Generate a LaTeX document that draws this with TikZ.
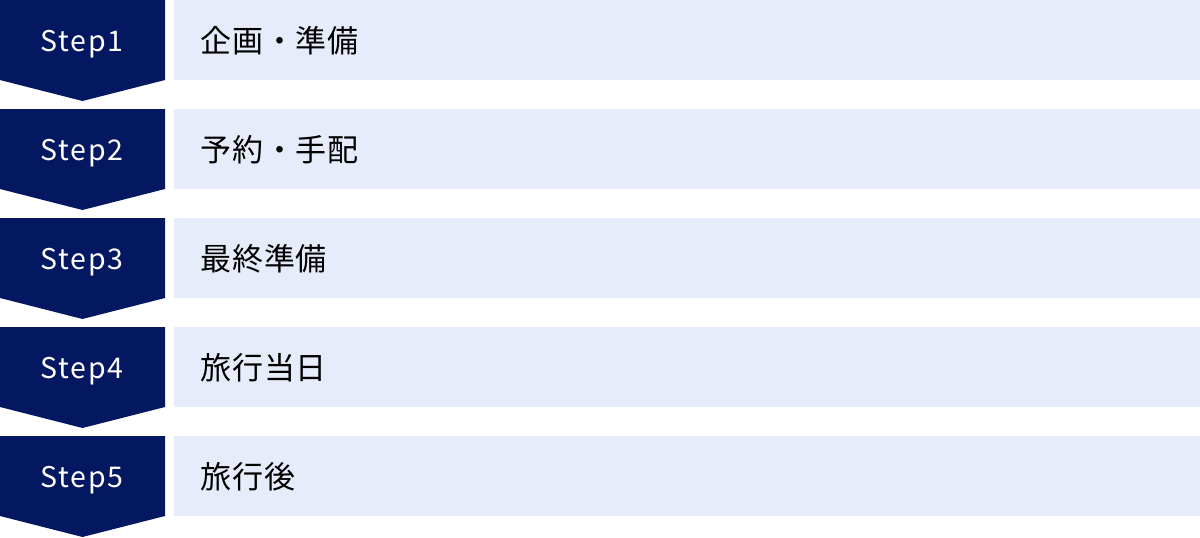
\documentclass[tikz,border=0pt]{standalone}
\usepackage{fontspec}
\setmainfont{Noto Sans CJK JP}
\usetikzlibrary{positioning}
\definecolor{stepnavy}{HTML}{041862}
\definecolor{boxblue}{HTML}{E6ECF9}
\tikzset{
  steplabel/.style={text=white, font=\fontsize{28.5}{33}\selectfont\addfontfeatures{LetterSpace=6},
    anchor=base, inner sep=0pt},
  stagebox/.style={fill=boxblue, minimum width=1026pt, minimum height=80pt,
    anchor=north west, inner sep=0pt},
  stagetext/.style={font=\fontsize{31}{35}\selectfont\addfontfeatures{LetterSpace=3},
    anchor=base west, inner sep=0pt}
}
\begin{document}
\begin{tikzpicture}[x=1pt,y=-1pt]
\useasboundingbox (0,0) rectangle (1200,538);
% steps
\foreach \n/\txt in {1/企画・準備,2/予約・手配,3/最終準備,4/旅行当日,5/旅行後}{
  \pgfmathsetmacro{\ytop}{(\n-1)*109}
  \fill[stepnavy] (0,\ytop) -- (165,\ytop) -- (165,\ytop+80)
    -- (82.5,\ytop+101) -- (0,\ytop+80) -- cycle;
  \node[steplabel] (step\n) at (82,\ytop+51.5) {Step\n};
  \node[stagebox] (box\n) at (174,\ytop) {};
  \node[stagetext] (stage\n) at (200,\ytop+52) {\txt};
}
\end{tikzpicture}
\end{document}
